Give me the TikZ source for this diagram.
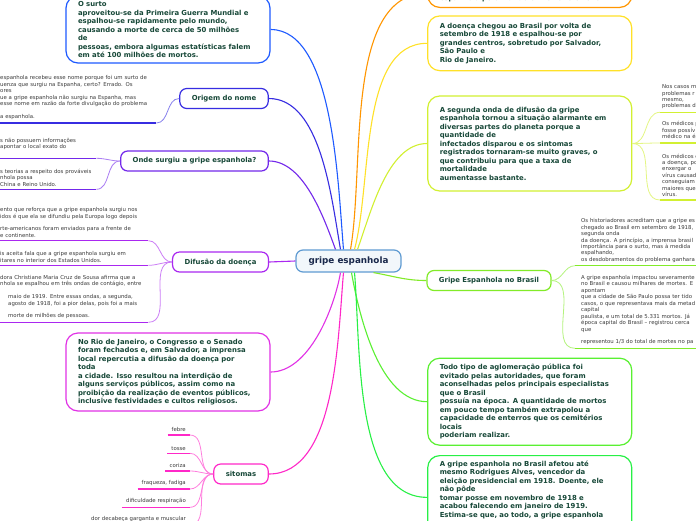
\documentclass[tikz,border=0pt]{standalone}
\usepackage{fontspec}
\setmainfont{DejaVu Sans}
\definecolor{gtext}{RGB}{23,72,56}
\definecolor{gnote}{RGB}{60,60,60}
\definecolor{gnavy}{RGB}{25,40,75}
\definecolor{groot}{RGB}{95,155,210}
\definecolor{gblue}{RGB}{30,90,255}
\definecolor{gindigo}{RGB}{55,45,225}
\definecolor{gviolet}{RGB}{115,40,235}
\definecolor{gpurple}{RGB}{170,40,240}
\definecolor{gmagenta}{RGB}{225,50,230}
\definecolor{gpink}{RGB}{255,40,200}
\definecolor{gorange}{RGB}{255,150,0}
\definecolor{gyellow}{RGB}{255,225,40}
\definecolor{glime}{RGB}{210,240,50}
\definecolor{ggreen}{RGB}{130,235,40}
\definecolor{gleaf}{RGB}{90,240,50}
\definecolor{gmint}{RGB}{40,240,70}
\tikzset{
  rootnode/.style={draw=groot, fill=groot!8, line width=1.2pt, rounded corners=7pt, minimum width=105pt, minimum height=22pt, font=\fontsize{8.8}{10}\selectfont\bfseries, text=gnavy},
  topic/.style={draw=#1, fill=white, line width=1.2pt, rounded corners=7pt, minimum height=20pt, inner xsep=12pt, font=\fontsize{6.9}{8}\selectfont\bfseries, text=gtext},
  notebox/.style={draw=#1, fill=white, line width=1.2pt, rounded corners=12pt, text width=180pt, inner xsep=12pt, inner ysep=5pt, align=left, font=\fontsize{6.9}{8.5}\selectfont\bfseries, text=gtext},
  leaf/.style={inner xsep=0pt, inner ysep=3pt, align=left, font=\fontsize{5.4}{6.45}\selectfont, text=gnote},
  uline/.style={line width=1.5pt, draw=#1},
  branch/.style={line width=1.1pt, draw=#1},
  twig/.style={line width=0.8pt, draw=#1!60}
}
\begin{document}
\begin{tikzpicture}[x=1pt,y=1pt]
  \fill[white] (0,0) rectangle (696,-520);
  \useasboundingbox (0,0) rectangle (696,-520);
  \clip (0,0) rectangle (696,-520);

  %% Central topic
  \node[rootnode] (root) at (348.5,-261) {gripe espanhola};

  %% Left side
  \node[notebox=gblue, minimum height=67pt] (surto) at (168,-29.5) {O surto\\aproveitou-se da Primeira Guerra Mundial e\\espalhou-se rapidamente pelo mundo,\\causando a morte de cerca de 50 milhões\\de\\pessoas, embora algumas estatísticas falem\\em até 100 milhões de mortos.};

  \node[topic=gindigo] (origem) at (224,-98.5) {Origem do nome};
  \node[leaf, text width=156pt, anchor=south west] (nome) at (0,-123) {espanhola recebeu esse nome porque foi um surto de\\uenza que surgiu na Espanha, certo? Errado. Os\\ores\\ue a gripe espanhola não surgiu na Espanha, mas\\esse nome em razão da forte divulgação do problema\\\mbox{}\\a espanhola.};

  \node[topic=gviolet] (onde) at (194.5,-161) {Onde surgiu a gripe espanhola?};
  \node[leaf, text width=96pt, anchor=south west] (local) at (0,-158.3) {s não possuem informações\\apontar o local exato do\\\mbox{}};
  \node[leaf, text width=96pt, anchor=south west] (teorias) at (0,-189.3) {s teorias a respeito dos prováveis\\nhola possa\\China e Reino Unido.};

  \node[topic=gpurple] (difusao) at (220.5,-262) {Difusão da doença};
  \node[leaf, text width=148pt, anchor=south west] (reforco) at (0,-240.7) {ento que reforça que a gripe espanhola surgiu nos\\idos é que ela se difundiu pela Europa logo depois\\\mbox{}\\rte-americanos foram enviados para a frente de\\e continente.};
  \node[leaf, text width=148pt, anchor=south west] (militares) at (0,-265.3) {is aceita fala que a gripe espanhola surgiu em\\itares no interior dos Estados Unidos.};
  \node[leaf, text width=148pt, anchor=south west] (ondas) at (0,-322.3) {dora Christiane Maria Cruz de Sousa afirma que a\\nhola se espalhou em três ondas de contágio, entre\\\mbox{}\\\hspace*{8pt}maio de 1919. Entre essas ondas, a segunda,\\\hspace*{8pt}agosto de 1918, foi a pior delas, pois foi a mais\\\mbox{}\\\hspace*{8pt}morte de milhões de pessoas.};

  \node[notebox=gmagenta, minimum height=78pt] (rio) at (168,-372) {No Rio de Janeiro, o Congresso e o Senado\\foram fechados e, em Salvador, a imprensa\\local repercutia a difusão da doença por\\toda\\a cidade. Isso resultou na interdição de\\alguns serviços públicos, assim como na\\proibição da realização de eventos públicos,\\inclusive festividades e cultos religiosos.};

  \node[topic=gpink] (sitomas) at (241,-474) {sitomas};
  \node[leaf, inner xsep=4pt, anchor=south east] (febre) at (190,-435) {febre};
  \node[leaf, inner xsep=4pt, anchor=south east] (tosse) at (190,-453.3) {tosse};
  \node[leaf, inner xsep=4pt, anchor=south east] (coriza) at (190,-471) {coriza};
  \node[leaf, inner xsep=4pt, anchor=south east] (fraqueza) at (190,-489) {fraqueza, fadiga};
  \node[leaf, inner xsep=4pt, anchor=south east] (respiracao) at (190,-507.3) {dificuldade respiração};
  \node[leaf, inner xsep=4pt, anchor=south east] (dores) at (190,-525) {dor decabeça garganta e muscular};

  %% Right side
  \node[notebox=gorange, anchor=south] (mundo) at (529.75,-8) {\mbox{}\\\mbox{}\\espanhola pelo mundo entre 1918 e 1919.};
  \node[notebox=gyellow, minimum height=54.7pt] (chegada) at (529.75,-43.3) {A doença chegou ao Brasil por volta de\\setembro de 1918 e espalhou-se por\\grandes centros, sobretudo por Salvador,\\São Paulo e\\Rio de Janeiro.};

  \node[notebox=glime, minimum height=95pt] (segunda) at (529.75,-143.5) {A segunda onda de difusão da gripe\\espanhola tornou a situação alarmante em\\diversas partes do planeta porque a\\quantidade de\\infectados disparou e os sintomas\\registrados tornaram-se muito graves, o\\que contribuiu para que a taxa de\\mortalidade\\aumentasse bastante.};
  \node[leaf, text width=60pt, inner xsep=2pt, anchor=south west] (casos) at (660,-112.3) {Nos casos m\\problemas r\\mesmo,\\problemas d};
  \node[leaf, text width=60pt, inner xsep=2pt, anchor=south west] (medicos) at (660,-143) {Os médicos p\\fosse possív\\médico na ép};
  \node[leaf, text width=60pt, inner xsep=2pt, anchor=south west] (virus) at (660,-200) {Os médicos c\\a doença, po\\enxergar o\\vírus causad\\conseguiam\\maiores que\\vírus.};

  \node[topic=ggreen] (brasil) at (489,-280.5) {Gripe Espanhola no Brasil};
  \node[leaf, text width=150pt, inner xsep=6pt, anchor=south west] (historia) at (575,-265.7) {Os historiadores acreditam que a gripe es\\chegado ao Brasil em setembro de 1918,\\segunda onda\\da doença. A princípio, a imprensa brasil\\importância para o surto, mas à medida\\espalhando,\\os desdobramentos do problema ganhara};
  \node[leaf, text width=150pt, inner xsep=6pt, anchor=south west] (impacto) at (575,-348.3) {A gripe espanhola impactou severamente\\no Brasil e causou milhares de mortes. E\\apontam\\que a cidade de São Paulo possa ter tido\\casos, o que representava mais da metad\\capital\\paulista, e um total de 5.331 mortos. Já\\época capital do Brasil – registrou cerca\\que\\\mbox{}\\representou 1/3 do total de mortes no pa};

  \node[notebox=gleaf, minimum height=87pt] (aglomeracao) at (529.75,-401.7) {Todo tipo de aglomeração pública foi\\evitado pelas autoridades, que foram\\aconselhadas pelos principais especialistas\\que o Brasil\\possuía na época. A quantidade de mortos\\em pouco tempo também extrapolou a\\capacidade de enterros que os cemitérios\\locais\\poderiam realizar.};
  \node[notebox=gmint, anchor=north] (alves) at (529.75,-455) {A gripe espanhola no Brasil afetou até\\mesmo Rodrigues Alves, vencedor da\\eleição presidencial em 1918. Doente, ele\\não pôde\\tomar posse em novembro de 1918 e\\acabou falecendo em janeiro de 1919.\\Estima-se que, ao todo, a gripe espanhola\\\mbox{}\\\mbox{}};

  %% Main branches
  \draw[branch=gblue] ([xshift=-5pt]root.north) to[out=95,in=0,looseness=0.7] (surto.east);
  \draw[branch=gindigo] ([xshift=-8pt]root.north) to[out=100,in=0,looseness=0.8] (origem.east);
  \draw[branch=gviolet] ([xshift=-13pt]root.north) to[out=110,in=0,looseness=0.8] (onde.east);
  \draw[branch=gpurple] (root.west) -- (difusao.east);
  \draw[branch=gmagenta] ([xshift=-8pt]root.south) to[out=-100,in=0,looseness=0.8] (rio.east);
  \draw[branch=gpink] ([xshift=-5pt]root.south) to[out=-95,in=0,looseness=0.8] (sitomas.east);
  \draw[branch=gorange] ([xshift=2pt]root.north) to[out=80,in=180,looseness=0.8] (mundo.west);
  \draw[branch=gyellow] ([xshift=6pt]root.north) to[out=75,in=180,looseness=0.8] (chegada.west);
  \draw[branch=glime] ([xshift=9pt]root.north) to[out=70,in=180,looseness=0.8] (segunda.west);
  \draw[branch=ggreen] ([xshift=25pt]root.south) to[out=-10,in=180] (brasil.west);
  \draw[branch=gleaf] ([xshift=3pt]root.south) to[out=-80,in=180,looseness=0.8] (aglomeracao.west);
  \draw[branch=gmint] ([xshift=6pt]root.south) to[out=-85,in=180,looseness=0.8] (alves.west);

  %% Leaves: underlines and twigs
  \foreach \lf/\col in {nome/gindigo, local/gviolet, teorias/gviolet, reforco/gpurple, militares/gpurple, ondas/gpurple, febre/gpink, tosse/gpink, coriza/gpink, fraqueza/gpink, respiracao/gpink, dores/gpink, casos/glime, medicos/glime, virus/glime, historia/ggreen, impacto/ggreen}
    \draw[uline=\col] (\lf.south west) -- (\lf.south east);
  \draw[twig=gindigo] (origem.west) to[out=180,in=0] (nome.south east);
  \foreach \lf in {local,teorias}
    \draw[twig=gviolet] (onde.west) to[out=180,in=0] (\lf.south east);
  \foreach \lf in {reforco,militares,ondas}
    \draw[twig=gpurple] (difusao.west) to[out=180,in=0] (\lf.south east);
  \foreach \lf in {febre,tosse,coriza,fraqueza,respiracao,dores}
    \draw[twig=gpink] (sitomas.west) to[out=180,in=0] (\lf.south east);
  \foreach \lf in {casos,medicos,virus}
    \draw[twig=glime] (segunda.east) to[out=0,in=180] (\lf.south west);
  \foreach \lf in {historia,impacto}
    \draw[twig=ggreen] (brasil.east) to[out=0,in=180] (\lf.south west);
\end{tikzpicture}
\end{document}
